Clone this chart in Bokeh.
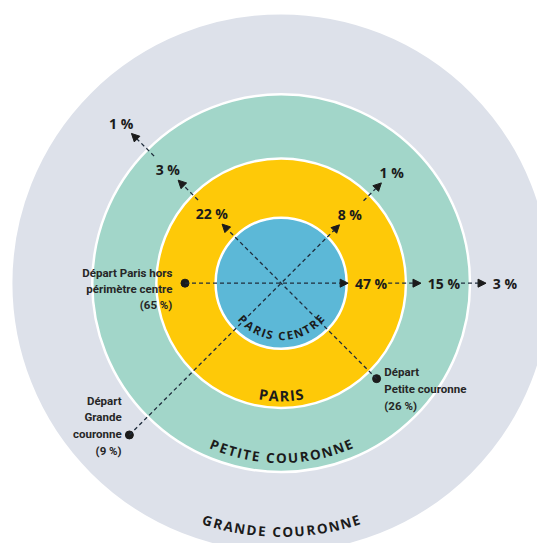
import math
from bokeh.plotting import figure
from bokeh.models import Range1d, ColumnDataSource, Arrow, NormalHead
from bokeh.core.properties import value
from bokeh.embed import file_html
from bokeh.resources import INLINE

# ---------------- data ----------------
zone_names = ["GRANDE COURONNE", "PETITE COURONNE", "PARIS", "PARIS CENTRE"]
zone_colors = ["#dde1ea", "#a2d6c9", "#fec908", "#5cb8d7"]
zone_radius = [278, 194.5, 128.5, 67.5]

origin_lines = [
    ["Départ Paris hors", "périmètre centre", "(65 %)"],
    ["Départ", "Petite couronne", "(26 %)"],
    ["Départ", "Grande", "couronne", "(9 %)"],
]
origin_share = [65, 26, 9]

flow_paris_hors_centre = [47, 15, 3]
flow_petite_couronne = [22, 3, 1]
flow_grande_couronne = [8, 1]
flows = [flow_paris_hors_centre, flow_petite_couronne, flow_grande_couronne]

# ---------------- layout ----------------
flow_angle_deg = [0, 135, 45]
dot_radius = [99, 139, 221]
tip_radius = [[69, 144, 211], [86, 150, 218], [85, 146]]
label_mode = ["left", "center", "center"]
origin_align = ["right", "left", "right"]
origin_dx = [-13, 8, -8]
origin_dy0 = [10, 7, 35]
origin_step = [16, 17.5, 17]

INK = "#1b1b1b"
DASH = "#1f2c3c"

p = figure(width=537, height=543, x_range=Range1d(-289, 264), y_range=Range1d(-268, 291),
           toolbar_location=None, output_backend="svg", min_border=0)
p.axis.visible = False
p.grid.visible = False
p.outline_line_color = None
p.background_fill_color = "white"
p.border_fill_color = "white"

p.circle(x=[0] * len(zone_radius), y=[0] * len(zone_radius), radius=zone_radius,
         fill_color=zone_colors, line_color="white", line_width=2.5)

# ---------------- curved zone labels ----------------
CW = {"P": .66, "A": .69, "R": .69, "I": .32, "S": .57, "C": .63, "E": .56, "N": .78,
      "T": .58, "O": .79, "U": .75, "G": .72, "D": .75, " ": .28}
SCALE = 537 / 553


def arc_text(label, r, size, spacing):
    widths = [(CW.get(c, .65) * size + spacing) / SCALE for c in label]
    total = sum(widths)
    pos = -total / 2
    xs, ys, an, ch = [], [], [], []
    for c, w in zip(label, widths):
        mid = pos + w / 2
        phi = -math.pi / 2 + mid / r
        xs.append(r * math.cos(phi))
        ys.append(r * math.sin(phi))
        an.append(phi + math.pi / 2)
        ch.append(c)
        pos += w
    return xs, ys, an, ch


arc_specs = [(zone_names[0], 256, 13.5, 1.5), (zone_names[1], 180, 13.5, 1.4),
             (zone_names[2], 116, 14.5, 0.6), (zone_names[3], 54, 11.5, 1.1)]
for name, r, size, sp in arc_specs:
    xs, ys, an, ch = arc_text(name, r, size, sp)
    p.text(x=xs, y=ys, text=ch, angle=an, text_align="center", text_baseline="middle",
           text_font=value("Open Sans"), text_font_style="bold",
           text_font_size=f"{size}px", text_color=INK)

# ---------------- flows ----------------
dots_x, dots_y = [], []
seg = dict(x0=[], y0=[], x1=[], y1=[])
lab_l = dict(x=[], y=[], t=[])
lab_c = dict(x=[], y=[], t=[])

for k, vals in enumerate(flows):
    a = math.radians(flow_angle_deg[k])
    ca, sa = math.cos(a), math.sin(a)
    s_start = -dot_radius[k]
    dots_x.append(s_start * ca)
    dots_y.append(s_start * sa)
    for v, tip in zip(vals, tip_radius[k]):
        txt = f"{v} %"
        seg["x0"].append(s_start * ca)
        seg["y0"].append(s_start * sa)
        seg["x1"].append(tip * ca)
        seg["y1"].append(tip * sa)
        if label_mode[k] == "left":
            s_lab = tip + 7
            lab_l["x"].append(s_lab * ca)
            lab_l["y"].append(s_lab * sa)
            lab_l["t"].append(txt)
            s_start = s_lab + 7.8 * len(txt) + 3
        else:
            s_lab = tip + 15
            lab_c["x"].append(s_lab * ca)
            lab_c["y"].append(s_lab * sa)
            lab_c["t"].append(txt)
            s_start = s_lab + 20

src = ColumnDataSource(seg)
p.add_layout(Arrow(end=NormalHead(size=8, fill_color=INK, line_color=INK, line_width=1),
                   x_start="x0", y_start="y0", x_end="x1", y_end="y1", source=src,
                   line_color=DASH, line_width=1.3, line_dash="4 3"))

p.scatter(x=dots_x, y=dots_y, size=8, color=INK)

pct_kw = dict(text_baseline="middle", text_font=value("Open Sans"), text_font_style="bold",
              text_font_size="14px", text_color=INK)
p.text(x=lab_l["x"], y=lab_l["y"], text=lab_l["t"], text_align="left", **pct_kw)
p.text(x=lab_c["x"], y=lab_c["y"], text=lab_c["t"], text_align="center", **pct_kw)

# ---------------- origin labels ----------------
for k, lines in enumerate(origin_lines):
    xs = [dots_x[k] + origin_dx[k]] * len(lines)
    ys = [dots_y[k] + origin_dy0[k] - i * origin_step[k] for i in range(len(lines))]
    p.text(x=xs, y=ys, text=lines, text_align=origin_align[k], text_baseline="middle",
           text_font=value("Roboto"), text_font_style="bold", text_font_size="11.5px",
           text_color="#262626")

open("out.html", "w").write(file_html(p, INLINE))
